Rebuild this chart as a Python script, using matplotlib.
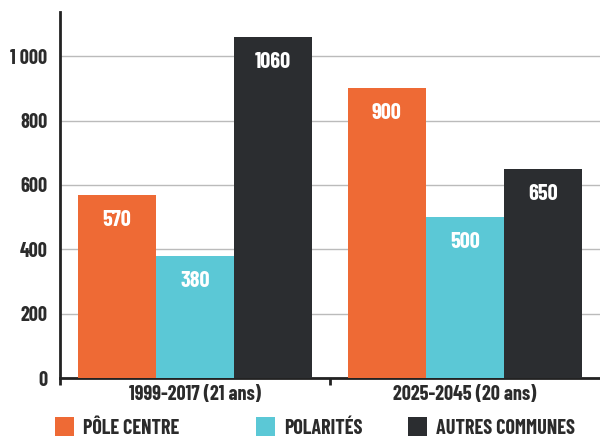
import matplotlib.pyplot as plt
import numpy as np
from matplotlib.patches import Rectangle

periods = ["1999-2017 (21 ans)", "2025-2045 (20 ans)"]
series = ["PÔLE CENTRE", "POLARITÉS", "AUTRES COMMUNES"]
pole_centre = [570, 900]
polarites = [380, 500]
autres = [1060, 650]
yticks = [0, 200, 400, 600, 800, 1000]
ytick_labels = ["0", "200", "400", "600", "800", "1 000"]

colors = ["#EE6A35", "#5BC8D6", "#2B2D30"]
plt.rcParams["font.family"] = ["Barlow Condensed", "DejaVu Sans"]
plt.rcParams["font.weight"] = "bold"
text_color = "#2B2B2B"

fig = plt.figure(figsize=(6, 4.36), dpi=100)
ax = fig.add_axes([0.1, 0.133, 0.9, 0.839])

x = np.arange(len(periods))
w = 0.29
for i, (vals, c) in enumerate(zip([pole_centre, polarites, autres], colors)):
    xs = x + (i - 1) * w
    ax.bar(xs, vals, width=w, color=c, zorder=3)
    for xi, v in zip(xs, vals):
        ax.annotate(str(v), (xi, v), xytext=(0, -18), textcoords="offset points",
                    ha="center", va="center", color="white", fontsize=16)

ax.set_xlim(-0.5, 1.5)
ax.set_ylim(0, 1137)
ax.set_yticks(yticks)
ax.set_yticklabels(ytick_labels)
ax.set_xticks(x)
ax.set_xticklabels(periods)
ax.set_xticks([-0.5, 0.5], minor=True)
ax.tick_params(axis="x", which="major", length=0, labelsize=14.5, pad=5, labelcolor=text_color)
ax.tick_params(axis="x", which="minor", length=5, width=2, direction="out", color="#222222")
ax.tick_params(axis="y", length=0, labelsize=14.5, pad=9, labelcolor=text_color)
ax.grid(axis="y", color="#BBBBBB", lw=1, zorder=0)

for s in ["top", "right"]:
    ax.spines[s].set_visible(False)
for s in ["left", "bottom"]:
    ax.spines[s].set_linewidth(2)
    ax.spines[s].set_color("#222222")

# legend, placed by hand along the bottom edge
W, H = 600, 436
box_x = [55, 256, 408]
for bx, name, c in zip(box_x, series, colors):
    fig.add_artist(Rectangle((bx / W, 0), 19 / W, 19 / H, transform=fig.transFigure,
                             color=c, lw=0))
    fig.text((bx + 28) / W, 8 / H, name, fontsize=14.5, va="center", ha="left",
             color=text_color)

fig.savefig("out.png", dpi=100)
